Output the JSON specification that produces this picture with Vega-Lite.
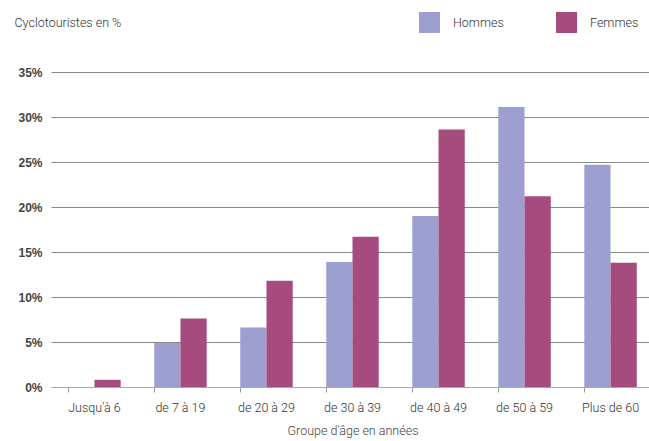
{
  "$schema": "https://vega.github.io/schema/vega-lite/v6.json",
  "width": 603,
  "height": 315,
  "autosize": {"type": "none"},
  "padding": {"left": 51, "top": 72, "right": 0, "bottom": 54},
  "background": "white",
  "config": {"view": {"stroke": null}, "font": "Roboto"},
  "data": {"values": [
    {"groupe": "Jusqu'à 6", "sexe": "Hommes", "pct": 0},
    {"groupe": "Jusqu'à 6", "sexe": "Femmes", "pct": 0.8},
    {"groupe": "de 7 à 19", "sexe": "Hommes", "pct": 4.9},
    {"groupe": "de 7 à 19", "sexe": "Femmes", "pct": 7.6},
    {"groupe": "de 20 à 29", "sexe": "Hommes", "pct": 6.6},
    {"groupe": "de 20 à 29", "sexe": "Femmes", "pct": 11.8},
    {"groupe": "de 30 à 39", "sexe": "Hommes", "pct": 13.9},
    {"groupe": "de 30 à 39", "sexe": "Femmes", "pct": 16.7},
    {"groupe": "de 40 à 49", "sexe": "Hommes", "pct": 19.0},
    {"groupe": "de 40 à 49", "sexe": "Femmes", "pct": 28.6},
    {"groupe": "de 50 à 59", "sexe": "Hommes", "pct": 31.1},
    {"groupe": "de 50 à 59", "sexe": "Femmes", "pct": 21.2},
    {"groupe": "Plus de 60", "sexe": "Hommes", "pct": 24.7},
    {"groupe": "Plus de 60", "sexe": "Femmes", "pct": 13.8}
  ]},
  "mark": {"type": "bar", "stroke": null},
  "encoding": {
    "x": {
      "field": "groupe", "type": "nominal", "sort": null,
      "scale": {"paddingInner": 0.39, "paddingOuter": 0.2},
      "axis": {
        "title": "Groupe d'âge en années", "titleFont": "Roboto", "titleFontSize": 12.5,
        "titleFontWeight": 300, "titleColor": "#444", "titlePadding": 11,
        "labelAngle": 0, "labelFont": "Roboto", "labelFontSize": 12.5, "labelFontWeight": 300, "labelColor": "#333", "labelPadding": 9,
        "bandPosition": 0, "tickSize": 5, "tickColor": "#999", "domainColor": "#aaa",
        "grid": false
      }
    },
    "xOffset": {"field": "sexe", "type": "nominal", "sort": ["Hommes", "Femmes"]},
    "y": {
      "field": "pct", "type": "quantitative",
      "scale": {"domain": [0, 35]},
      "axis": {
        "values": [0, 5, 10, 15, 20, 25, 30, 35],
        "labelExpr": "datum.value + '%'",
        "labelFont": "Liberation Sans", "labelFontSize": 12, "labelFontWeight": "bold", "labelColor": "#444",
        "labelPadding": 9, "ticks": false, "domain": false,
        "grid": true, "gridColor": "#8a8a8a", "gridWidth": 1,
        "title": "Cyclotouristes en %", "titleAngle": 0, "titleX": -37, "titleY": -50,
        "titleAlign": "left", "titleBaseline": "middle", "titleFont": "Roboto",
        "titleFontSize": 12.5, "titleFontWeight": 300, "titleColor": "#333"
      }
    },
    "color": {
      "field": "sexe", "type": "nominal", "sort": ["Hommes", "Femmes"],
      "scale": {"domain": ["Hommes", "Femmes"], "range": ["#9c9fd0", "#a64b7d"]},
      "legend": {
        "title": null, "orient": "none", "legendX": 368, "legendY": -60, "direction": "horizontal",
        "symbolType": "square", "symbolSize": 440, "symbolStrokeWidth": 0,
        "labelFont": "Roboto", "labelFontWeight": 300,
        "labelFontSize": 12.5, "labelColor": "#333", "labelOffset": 13, "columnPadding": 52
      }
    }
  }
}
